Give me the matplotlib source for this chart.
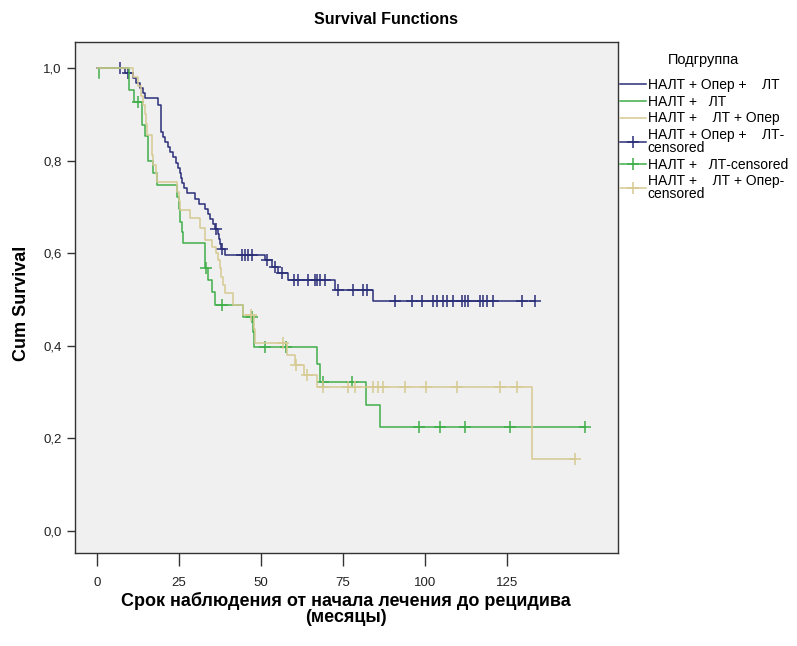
import numpy as np
import matplotlib
matplotlib.use("Agg")
import matplotlib.pyplot as plt
from matplotlib.lines import Line2D

plt.rcParams['font.family'] = ['Liberation Sans', 'DejaVu Sans']

# ---------------- data ----------------
groups = ["НАЛТ + Опер +    ЛТ", "НАЛТ +   ЛТ", "НАЛТ +    ЛТ + Опер"]

# group 1: НАЛТ + Опер + ЛТ
g1_event_t = [8.5, 11.0, 12.0, 13.0, 14.0, 14.6, 18.7, 19.4, 20.0, 20.7, 21.5, 22.3,
              23.2, 24.0, 24.8, 25.3, 25.6, 26.0, 26.5, 27.5, 30.0, 31.0, 32.9, 33.7,
              34.5, 35.3, 36.0, 36.8, 37.2, 37.5, 37.9, 39.0, 51.2, 53.2, 55.3, 58.3,
              72.6, 84.0]
g1_event_s = [0.989, 0.978, 0.967, 0.956, 0.945, 0.934, 0.920, 0.862, 0.851, 0.840,
              0.829, 0.818, 0.807, 0.795, 0.784, 0.773, 0.762, 0.751, 0.740, 0.729,
              0.718, 0.707, 0.696, 0.685, 0.674, 0.663, 0.652, 0.641, 0.630, 0.619,
              0.608, 0.597, 0.585, 0.571, 0.558, 0.543, 0.520, 0.497]
g1_censor_t = [7.0, 9.5, 36.3, 38.1, 44.1, 45.1, 46.1, 47.2, 51.8, 54.3, 56.3, 59.9,
               61.4, 64.4, 66.5, 67.0, 68.0, 69.5, 73.6, 78.1, 81.2, 82.2, 90.9, 95.9,
               99.0, 102.5, 103.6, 105.6, 106.6, 108.6, 111.2, 112.2, 113.2, 116.8,
               117.8, 118.8, 120.8, 129.5, 133.4]

# group 2: НАЛТ + ЛТ
g2_start_t = 0.6
g2_start_s = 0.978
g2_event_t = [0.6, 9.9, 11.3, 13.6, 14.6, 15.6, 17.0, 18.2, 24.5, 25.0, 25.3, 25.8,
              26.1, 33.0, 33.9, 35.0, 36.0, 44.6, 47.7, 48.0, 67.0, 68.0, 82.0, 86.3]
g2_event_s = [1.0, 0.952, 0.927, 0.877, 0.852, 0.800, 0.773, 0.747, 0.722, 0.695,
              0.668, 0.645, 0.621, 0.567, 0.542, 0.517, 0.488, 0.463, 0.430, 0.398,
              0.360, 0.322, 0.272, 0.224]
g2_censor_t = [12.6, 33.2, 38.0, 47.2, 51.2, 57.6, 69.0, 77.6, 98.0, 104.6, 112.2,
               125.9, 148.8]

# group 3: НАЛТ + ЛТ + Опер
g3_event_t = [11.0, 12.5, 13.3, 14.0, 14.5, 15.0, 15.3, 16.7, 16.9, 17.2, 18.0, 18.3,
              24.5, 25.0, 25.3, 28.4, 31.4, 33.0, 35.0, 36.2, 37.0, 37.5, 37.8, 38.5,
              39.0, 41.5, 44.6, 48.0, 48.2, 57.9, 60.3, 63.0, 67.0, 132.5]
g3_event_s = [0.980, 0.960, 0.940, 0.920, 0.900, 0.878, 0.856, 0.835, 0.812, 0.790,
              0.772, 0.754, 0.733, 0.713, 0.693, 0.675, 0.654, 0.628, 0.614, 0.600,
              0.585, 0.567, 0.549, 0.531, 0.513, 0.488, 0.467, 0.436, 0.405, 0.380,
              0.359, 0.337, 0.312, 0.155]
g3_censor_t = [47.0, 56.8, 60.8, 63.9, 69.0, 76.6, 78.7, 84.2, 85.5, 87.3, 93.9,
               100.3, 109.8, 122.9, 128.1, 145.8]

y_ticks = [0.0, 0.2, 0.4, 0.6, 0.8, 1.0]
y_tick_labels = ["0,0", "0,2", "0,4", "0,6", "0,8", "1,0"]
x_ticks = [0, 25, 50, 75, 100, 125]

colors = ['#2b2f78', '#3fae49', '#d6c992']

# ---------------- figure ----------------
W, H = 797, 646
fig = plt.figure(figsize=(W / 100, H / 100), dpi=100)
fig.patch.set_facecolor('white')
ax = fig.add_axes([75 / W, 1 - 553 / H, (618 - 75) / W, (553 - 42) / H])
ax.set_facecolor('#f0f0f0')


def curve(start_t, start_s, ev_t, ev_s, cens_t):
    ev_t = np.asarray(ev_t, float)
    ev_s = np.asarray(ev_s, float)
    end_t = max(max(cens_t), ev_t.max())
    t = np.concatenate([[start_t], ev_t, [end_t]])
    s = np.concatenate([[start_s], ev_s, [ev_s[-1]]])
    ct = np.asarray(cens_t, float)
    idx = np.searchsorted(ev_t, ct, side='right') - 1
    cs = np.where(idx >= 0, ev_s[np.clip(idx, 0, None)], start_s)
    return t, s, ct, cs


data = [
    (0.0, 1.0, g1_event_t, g1_event_s, g1_censor_t),
    (g2_start_t, g2_start_s, g2_event_t, g2_event_s, g2_censor_t),
    (0.0, 1.0, g3_event_t, g3_event_s, g3_censor_t),
]

order = [0, 2, 1]
for i in order:
    t, s, ct, cs = curve(*data[i])
    ax.step(t, s, where='post', color=colors[i], lw=1.1, zorder=3 + i)
    ax.plot(ct, cs, linestyle='none', marker='+', markersize=8, mew=1.1,
            color=colors[i], zorder=3 + i)

ax.set_xlim(-6.7, 158.8)
ax.set_ylim(-0.0475, 1.056)
ax.set_xticks(x_ticks)
ax.set_xticklabels([str(v) for v in x_ticks])
ax.set_yticks(y_ticks)
ax.set_yticklabels(y_tick_labels)
ax.tick_params(axis='both', direction='out', length=6, width=1, color='#333333',
               labelsize=9.5, labelcolor='#222222')
ax.tick_params(axis='x', length=9, pad=8)
for sp in ax.spines.values():
    sp.set_color('#333333')
    sp.set_linewidth(1.0)

fig.text(386 / W, 1 - 20 / H, "Survival Functions", ha='center', va='center',
         fontsize=11.5, fontweight='bold')
fig.text(22 / W, 1 - 303 / H, "Cum Survival", ha='center', va='center',
         rotation=90, fontsize=13, fontweight='bold')
fig.text(346 / W, 1 - 609 / H, "Срок наблюдения от начала лечения до рецидива\n(месяцы)",
         ha='center', va='center', fontsize=13, fontweight='bold', linespacing=0.9)

# legend
handles = []
labels = []
for i, g in enumerate(groups):
    handles.append(Line2D([], [], color=colors[i], lw=1.1))
    labels.append(g)
cens_labels = ["НАЛТ + Опер +    ЛТ-\ncensored", "НАЛТ +   ЛТ-censored",
               "НАЛТ +    ЛТ + Опер-\ncensored"]
for i in range(3):
    handles.append(Line2D([], [], color=colors[i], lw=1.1, marker='+',
                          markersize=8, mew=1.1))
    labels.append(cens_labels[i])

leg = fig.legend(handles, labels, loc='upper left',
                 bbox_to_anchor=(617 / W, 1 - 50 / H), frameon=False,
                 title="Подгруппа", title_fontsize=10.5, fontsize=10,
                 handlelength=1.9, handletextpad=0.1, labelspacing=0.2,
                 borderaxespad=0, borderpad=0.2)
leg._legend_box.align = 'center'
leg._legend_box.sep = 8
for txt in leg.get_texts():
    txt.set_linespacing(0.88)

fig.savefig('out.png', dpi=100, facecolor='white')
